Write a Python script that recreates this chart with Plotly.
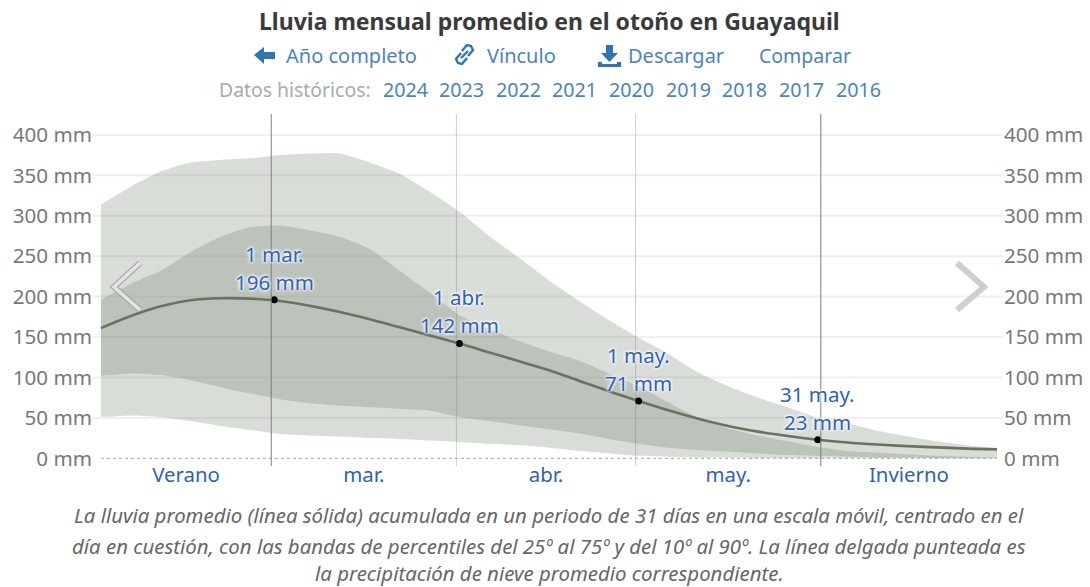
import plotly.graph_objects as go

W, H = 1090, 587
L, R, T, B = 93, 1003, 114, 466
FONT = "Noto Sans"

dates = ["2023-01-31 12:00", "2023-02-05 12:00", "2023-02-10 12:00", "2023-02-15 12:00",
         "2023-02-20 12:00", "2023-02-25 12:00", "2023-03-02 12:00", "2023-03-07 12:00",
         "2023-03-12 12:00", "2023-03-17 12:00", "2023-03-22 12:00", "2023-03-27 12:00",
         "2023-04-01 12:00", "2023-04-06 12:00", "2023-04-11 12:00", "2023-04-16 12:00",
         "2023-04-21 12:00", "2023-04-26 12:00", "2023-05-01 12:00", "2023-05-06 12:00",
         "2023-05-11 12:00", "2023-05-16 12:00", "2023-05-21 12:00", "2023-05-26 12:00",
         "2023-05-31 12:00", "2023-06-05 12:00", "2023-06-10 12:00", "2023-06-15 12:00",
         "2023-06-20 12:00", "2023-06-25 12:00", "2023-06-30 12:00"]
p90 = [314, 336, 355, 366, 369, 371, 375, 377, 377, 366, 352, 330, 305, 275, 248, 220,
       195, 171, 149, 129, 106, 89, 75, 63, 50, 43, 34, 27, 21, 16, 12]
p75 = [196, 216, 232, 255, 274, 286, 288, 282, 274, 259, 232, 205, 177, 160, 145, 132,
       121, 105, 89, 69, 50, 37, 28, 21, 14, 9, 7, 5, 3, 2, 1]
p25 = [102, 105, 103, 97, 88, 80, 73, 68, 65, 63, 61, 59, 51, 46, 41, 36,
       31, 24, 18, 13, 10, 8, 6, 4, 3, 2, 1, 1, 0, 0, 0]
p10 = [51, 53, 51, 46, 40, 35, 30, 28, 27, 25, 24, 22, 20, 18, 16, 13,
       9, 6, 3, 2, 1, 1, 0, 0, 0, 0, 0, 0, 0, 0, 0]
mean = [161, 176, 188, 195.5, 198, 197.5, 194.5, 188.5, 181, 172, 162, 152, 142, 131, 120, 109,
        96, 83, 71, 59.5, 49, 40, 33, 27.5, 23, 19.5, 17, 15, 13.5, 12, 11]

point_dates = ["2023-03-01 12:00", "2023-04-01 12:00", "2023-05-01 12:00", "2023-05-31 12:00"]
point_values = [196, 142, 71, 23]
point_names = ["1 mar.", "1 abr.", "1 may.", "31 may."]

y_ticks = [0, 50, 100, 150, 200, 250, 300, 350, 400]
y_labels = ["0 mm", "50 mm", "100 mm", "150 mm", "200 mm", "250 mm", "300 mm", "350 mm", "400 mm"]

x_tick_dates = ["2023-02-14 18:00", "2023-03-16 12:00", "2023-04-16 00:00", "2023-05-16 12:00", "2023-06-15 18:00"]
x_tick_labels = ["Verano", "mar.", "abr.", "may.", "Invierno"]

season_lines = ["2023-03-01", "2023-06-01"]
month_lines = ["2023-04-01", "2023-05-01"]

years = ["2024", "2023", "2022", "2021", "2020", "2019", "2018", "2017", "2016"]
year_centers = [405, 461, 518, 574, 631, 688, 744, 801, 858]

caption = ["La lluvia promedio (línea sólida) acumulada en un periodo de 31 días en una escala móvil, centrado en el",
           "día en cuestión, con las bandas de percentiles del 25º al 75º y del 10º al 90º. La línea delgada punteada es",
           "la precipitación de nieve promedio correspondiente."]
caption_y = [515, 546, 573]

BAND = "rgba(104,120,100,0.25)"
LINK = "#4a84bf"
HALO = "0 0 3px #fff, 0 0 3px #fff, 0 0 4px #fff"
SMOOTH = dict(width=0, shape="spline", smoothing=0.5)


def px(x):
    return (x - L) / (R - L)


def py(y):
    return (B - y) / (B - T)


def path(points, close=False):
    s = "M " + " L ".join(f"{px(x):.5f},{py(y):.5f}" for x, y in points)
    return s + (" Z" if close else "")


fig = go.Figure()
fig.add_trace(go.Scatter(x=dates, y=p10, mode="lines", line=SMOOTH, hoverinfo="skip"))
fig.add_trace(go.Scatter(x=dates, y=p90, mode="lines", line=SMOOTH, fill="tonexty",
                         fillcolor=BAND, hoverinfo="skip"))
fig.add_trace(go.Scatter(x=dates, y=p25, mode="lines", line=SMOOTH, hoverinfo="skip"))
fig.add_trace(go.Scatter(x=dates, y=p75, mode="lines", line=SMOOTH, fill="tonexty",
                         fillcolor=BAND, hoverinfo="skip"))
fig.add_trace(go.Scatter(x=dates, y=mean, mode="lines",
                         line=dict(color="#69735f", width=2.6, shape="spline", smoothing=1.0)))
fig.add_trace(go.Scatter(x=point_dates, y=point_values, mode="markers",
                         marker=dict(color="#000", size=7)))
fig.add_trace(go.Scatter(x=dates, y=mean, yaxis="y2", mode="lines", opacity=0,
                         line=dict(width=0), hoverinfo="skip"))

shapes = []
for t in y_ticks[1:]:
    shapes.append(dict(type="line", xref="paper", x0=0, x1=1, yref="y", y0=t, y1=t,
                       line=dict(color="#efefef", width=2), layer="below"))
shapes.append(dict(type="line", xref="paper", x0=px(101), x1=px(997), yref="y", y0=0, y1=0,
                   line=dict(color="#a8a8a8", width=1, dash="dot"), layer="above"))
for d in season_lines:
    shapes.append(dict(type="line", xref="x", x0=d, x1=d, yref="paper", y0=0, y1=1,
                       line=dict(color="#7d7d7d", width=1), layer="above"))
for d in month_lines:
    shapes.append(dict(type="line", xref="x", x0=d, x1=d, yref="paper", y0=0, y1=1,
                       line=dict(color="rgba(120,120,120,0.35)", width=1), layer="above"))

# chevrons
left_chev = [(140, 263), (114, 287), (140, 310)]
right_chev = [(957, 263), (984, 287), (957, 310)]
shapes.append(dict(type="path", xref="paper", yref="paper", path=path(left_chev),
                   line=dict(color="#a9aba8", width=6), layer="above"))
shapes.append(dict(type="path", xref="paper", yref="paper", path=path(left_chev),
                   line=dict(color="#e4e6e3", width=3.5), layer="above"))
shapes.append(dict(type="path", xref="paper", yref="paper", path=path(right_chev),
                   line=dict(color="#cfcfcf", width=6), layer="above"))

# header icons
shapes.append(dict(type="path", xref="paper", yref="paper", fillcolor="#2f75b5", line=dict(width=0),
                   path=path([(254, 55), (264, 47), (264, 52), (275, 52), (275, 59), (264, 59), (264, 64)], True)))
shapes.append(dict(type="path", xref="paper", yref="paper", fillcolor="#2f75b5", line=dict(width=0),
                   path=path([(598, 62), (602, 62), (602, 64), (617, 64), (617, 62), (621, 62), (621, 67), (598, 67)], True)))
shapes.append(dict(type="path", xref="paper", yref="paper", fillcolor="#2f75b5", line=dict(width=0),
                   path=path([(606, 45), (613, 45), (613, 53), (618, 53), (609.5, 62), (601, 53), (606, 53)], True)))
for seg in ([(461, 53), (456, 59), (458, 63), (462, 64), (467, 58)],
            [(468, 56), (473, 50), (471, 46), (467, 45), (462, 51)],
            [(461, 58), (468, 51)]):
    shapes.append(dict(type="path", xref="paper", yref="paper", path=path(seg),
                       line=dict(color="#2f75b5", width=2.4)))

ann = []


def text(x, y, s, size, color, anchor="center", **font):
    ann.append(dict(xref="paper", yref="paper", x=px(x), y=py(y), text=s, showarrow=False,
                    xanchor=anchor, yanchor="middle",
                    font=dict(family=FONT, size=size, color=color, **font)))


text(549, 21, "<b>Lluvia mensual promedio en el otoño en Guayaquil</b>", 23, "#3a3a3a")
text(351.5, 56, "Año completo", 20, LINK)
text(521, 56, "Vínculo", 20, LINK)
text(676, 56, "Descargar", 20, LINK)
text(805, 56, "Comparar", 19.5, LINK)
text(295, 89, "Datos históricos:", 19.4, "#aaaaaa")
for yr, c in zip(years, year_centers):
    text(c, 89, yr, 19.7, LINK)
for line, cy in zip(caption, caption_y):
    text(549, cy, f"<i>{line}</i>", 20.4, "#666666")

for d, v, n in zip(point_dates, point_values, point_names):
    for s, shift in ((f"{v} mm", 18), (n, 46)):
        ann.append(dict(x=d, y=v, xref="x", yref="y", text=s, showarrow=False, yshift=shift,
                        xanchor="center", yanchor="middle",
                        font=dict(family=FONT, size=20.5, color="#2f5fc0", shadow=HALO)))

tick_font = dict(family=FONT, size=20.6, color="#777777")
y_range = [-(B - 458.3) / 0.8085, (458.3 - T) / 0.8085]
fig.update_layout(
    width=W, height=H, showlegend=False, paper_bgcolor="#fff", plot_bgcolor="#fff",
    margin=dict(l=L, r=W - R, t=T, b=H - B, pad=0, autoexpand=False), hovermode=False,
    xaxis=dict(type="date", range=["2023-01-30 04:00", "2023-07-01 12:00"], tickmode="array",
               tickvals=x_tick_dates, ticktext=x_tick_labels, showgrid=False, zeroline=False,
               ticks="", ticklabelstandoff=-5, tickfont=dict(family=FONT, size=20.4, color="#2f5fc0")),
    yaxis=dict(range=y_range, tickmode="array", tickvals=y_ticks, ticktext=y_labels,
               showgrid=False, zeroline=False, ticks="", tickfont=tick_font),
    yaxis2=dict(range=y_range, overlaying="y", side="right", tickmode="array", tickvals=y_ticks,
                ticktext=y_labels, showgrid=False, zeroline=False, ticks="", tickfont=tick_font),
    shapes=shapes, annotations=ann,
)
fig.write_html("out.html", config=dict(displayModeBar=False),
               post_script="document.body.style.margin='0';document.body.style.overflow='hidden';")
